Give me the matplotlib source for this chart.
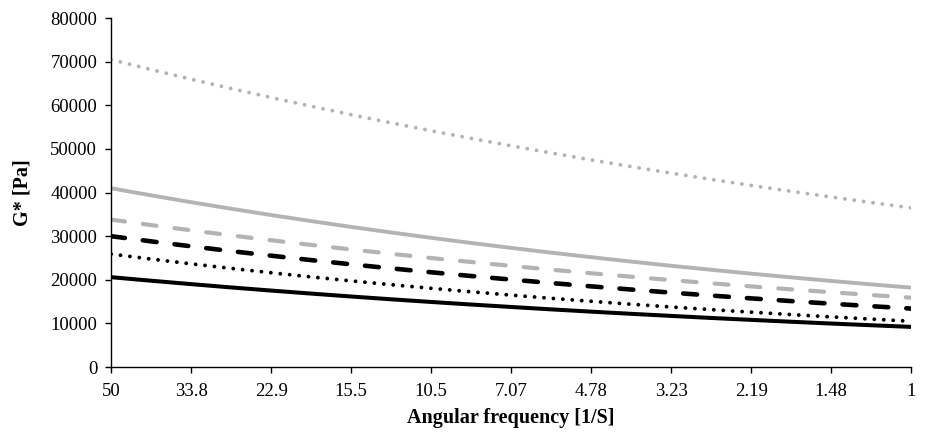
import matplotlib.pyplot as plt

plt.rcParams['font.family'] = ['Liberation Serif', 'DejaVu Serif']
plt.rcParams['lines.scale_dashes'] = False

# angular frequency, 21 log-spaced points from 50 down to 1
freq_labels = ['50', '', '33.8', '', '22.9', '', '15.5', '', '10.5', '', '7.07',
               '', '4.78', '', '3.23', '', '2.19', '', '1.48', '', '1']

grey_dotted = [70500, 68220, 66010, 63870, 61800, 59800, 57870, 55990, 54180, 52430, 50730,
               49090, 47500, 45960, 44470, 43030, 41640, 40290, 38990, 37720, 36500]
grey_solid = [41000, 39370, 37800, 36300, 34850, 33470, 32130, 30860, 29630, 28450, 27320,
              26230, 25190, 24180, 23220, 22300, 21410, 20560, 19740, 18950, 18200]
grey_dashed = [33800, 32550, 31350, 30190, 29070, 28000, 26960, 25960, 25000, 24080, 23190,
               22330, 21500, 20710, 19940, 19200, 18490, 17810, 17150, 16510, 15900]
black_dashed = [30000, 28815, 27680, 26580, 25530, 24520, 23550, 22620, 21730, 20870, 20050,
                19260, 18500, 17770, 17060, 16390, 15740, 15120, 14520, 13950, 13400]
black_dotted = [25900, 24760, 23660, 22620, 21620, 20660, 19750, 18880, 18050, 17250, 16490,
                15760, 15070, 14400, 13770, 13160, 12580, 12020, 11490, 10990, 10500]
black_solid = [20600, 19790, 19010, 18250, 17530, 16840, 16170, 15530, 14920, 14330, 13770,
               13220, 12700, 12200, 11720, 11250, 10810, 10380, 9970, 9580, 9200]

grey = '#b3b3b3'
x = list(range(len(freq_labels)))

fig = plt.figure(figsize=(9.26, 4.33), dpi=100)
ax = fig.add_axes([0.12, 0.1524, 0.864, 0.8056])

dot = (0, (0.01, 6.8))
dash = (0, (10.0, 13.0))
ax.plot(x, grey_dotted, color=grey, lw=2.8, linestyle=dot, dash_capstyle='round')
ax.plot(x, grey_solid, color=grey, lw=2.8)
ax.plot(x, grey_dashed, color=grey, lw=3.0, linestyle=dash, dash_capstyle='round')
ax.plot(x, black_dashed, color='black', lw=3.3, linestyle=dash, dash_capstyle='round')
ax.plot(x, black_dotted, color='black', lw=2.8, linestyle=dot, dash_capstyle='round')
ax.plot(x, black_solid, color='black', lw=2.9)

ax.set_xlim(0, len(x) - 1)
ax.set_ylim(0, 80000)
ax.set_yticks(range(0, 80001, 10000))
ax.set_xticks(x[::2])
ax.set_xticklabels(freq_labels[::2])

for s in ['top', 'right']:
    ax.spines[s].set_visible(False)
for s in ['left', 'bottom']:
    ax.spines[s].set_linewidth(1.0)
ax.tick_params(axis='both', direction='out', length=4.5, width=1.0, labelsize=13.5)
ax.tick_params(axis='y', pad=5.5)
ax.tick_params(axis='x', pad=7)

ax.set_xlabel('Angular frequency [1/S]', fontsize=14.5, fontweight='bold', labelpad=6)
ax.set_ylabel('G* [Pa]', fontsize=14.5, fontweight='bold', labelpad=13)

fig.savefig('out.png', dpi=100)
